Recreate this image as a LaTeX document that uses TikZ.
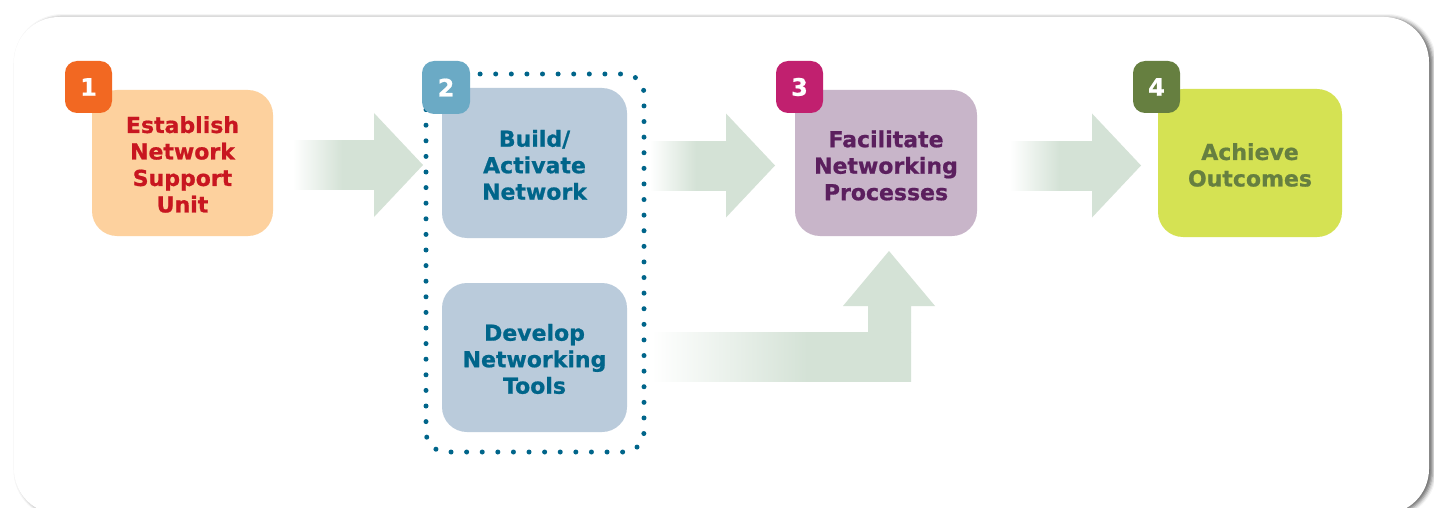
\documentclass[tikz,border=0pt]{standalone}
\usepackage{fontspec}
\setmainfont{DejaVu Sans}
\newfontfamily\boxfnt{DejaVu Sans Bold}[FakeBold=0.8]
\usetikzlibrary{shadows.blur}
\definecolor{agreen}{RGB}{212,226,214}
\definecolor{peach}{RGB}{253,209,158}
\definecolor{redtxt}{RGB}{200,22,32}
\definecolor{orangeb}{RGB}{242,104,34}
\definecolor{bluebox}{RGB}{186,203,219}
\definecolor{bluetxt}{RGB}{0,101,138}
\definecolor{blueb}{RGB}{107,170,197}
\definecolor{mauve}{RGB}{200,181,201}
\definecolor{purpletxt}{RGB}{91,31,94}
\definecolor{magentab}{RGB}{193,32,111}
\definecolor{limebox}{RGB}{213,226,83}
\definecolor{olive}{RGB}{102,127,64}
\pgfdeclarehorizontalshading{shaftfade}{100bp}{color(0bp)=(white); color(25bp)=(white); color(55bp)=(agreen); color(100bp)=(agreen)}
\newcommand\HArrow[4]{%
  \shade[shading=shaftfade] (#1,#4-24.5) rectangle (#2+0.5,#4+24.5);
  \fill[agreen] (#2,#4-52) -- (#3,#4) -- (#2,#4+52) -- cycle;}
\tikzset{
  stepbox/.style={rounded corners=25, inner sep=0},
  steptext/.style={inner sep=0, align=center, font=\fontsize{22}{26.5}\selectfont\boxfnt},
  badge/.style={rounded corners=12, inner sep=0, minimum width=47, minimum height=52,
    text=white, font=\fontsize{24}{28}\selectfont\boxfnt},
  dotline/.style={draw=bluetxt, line width=5pt, dash pattern=on 0pt off 15.6pt, line cap=round, rounded corners=20}
}
\begin{document}
\begin{tikzpicture}[x=1pt,y=-1pt]
\useasboundingbox (0,0) rectangle (1434,508);
% frame
\path[fill=white, rounded corners=45, blur shadow={shadow xshift=3.5pt, shadow yshift=-1pt, shadow blur radius=4pt, shadow opacity=60}] (14,17) rectangle (1429,514);
% arrows
\HArrow{293}{374}{423}{165}
\HArrow{650}{726}{775}{165.5}
\HArrow{1010}{1092}{1141}{165.5}
\fill[agreen] (868,332.5) -- (868,306) -- (843,306) -- (889,251) -- (935,306) -- (911,306) -- (911,332.5) -- cycle;
\shade[shading=shaftfade] (652,332) rectangle (911,381);
% dotted group
\draw[dotline] (426,74) rectangle (644,452);
% boxes
\node[stepbox, fill=peach, minimum width=181, minimum height=146] (s1) at (182.5,163) {};
\node[stepbox, fill=bluebox, minimum width=185, minimum height=150] (s2) at (534.5,163) {};
\node[stepbox, fill=bluebox, minimum width=185, minimum height=149] (s2b) at (534.5,357.5) {};
\node[stepbox, fill=mauve, minimum width=182, minimum height=146] (s3) at (886,163) {};
\node[stepbox, fill=limebox, minimum width=184, minimum height=148] (s4) at (1250,163) {};
\node[steptext, text=redtxt] (t1) at ([yshift=-1.5]s1.center) {Establish\\Network\\Support\\Unit};
\node[steptext, text=bluetxt] (t2) at ([yshift=-2]s2.center) {Build/\\Activate\\Network};
\node[steptext, text=bluetxt] (t2b) at ([yshift=-1.5]s2b.center) {Develop\\Networking\\Tools};
\node[steptext, text=purpletxt] (t3) at ([yshift=-2.5]s3.center) {Facilitate\\Networking\\Processes};
\node[steptext, text=olive] (t4) at ([yshift=-2]s4.center) {Achieve\\Outcomes};
% badges
\node[badge, fill=orangeb] (n1) at (88.5,87) {1};
\node[badge, fill=blueb, minimum width=48, minimum height=53] (n2) at (446,87.5) {2};
\node[badge, fill=magentab] (n3) at (799.5,87) {3};
\node[badge, fill=olive] (n4) at (1156.5,87) {4};
\end{tikzpicture}
\end{document}
